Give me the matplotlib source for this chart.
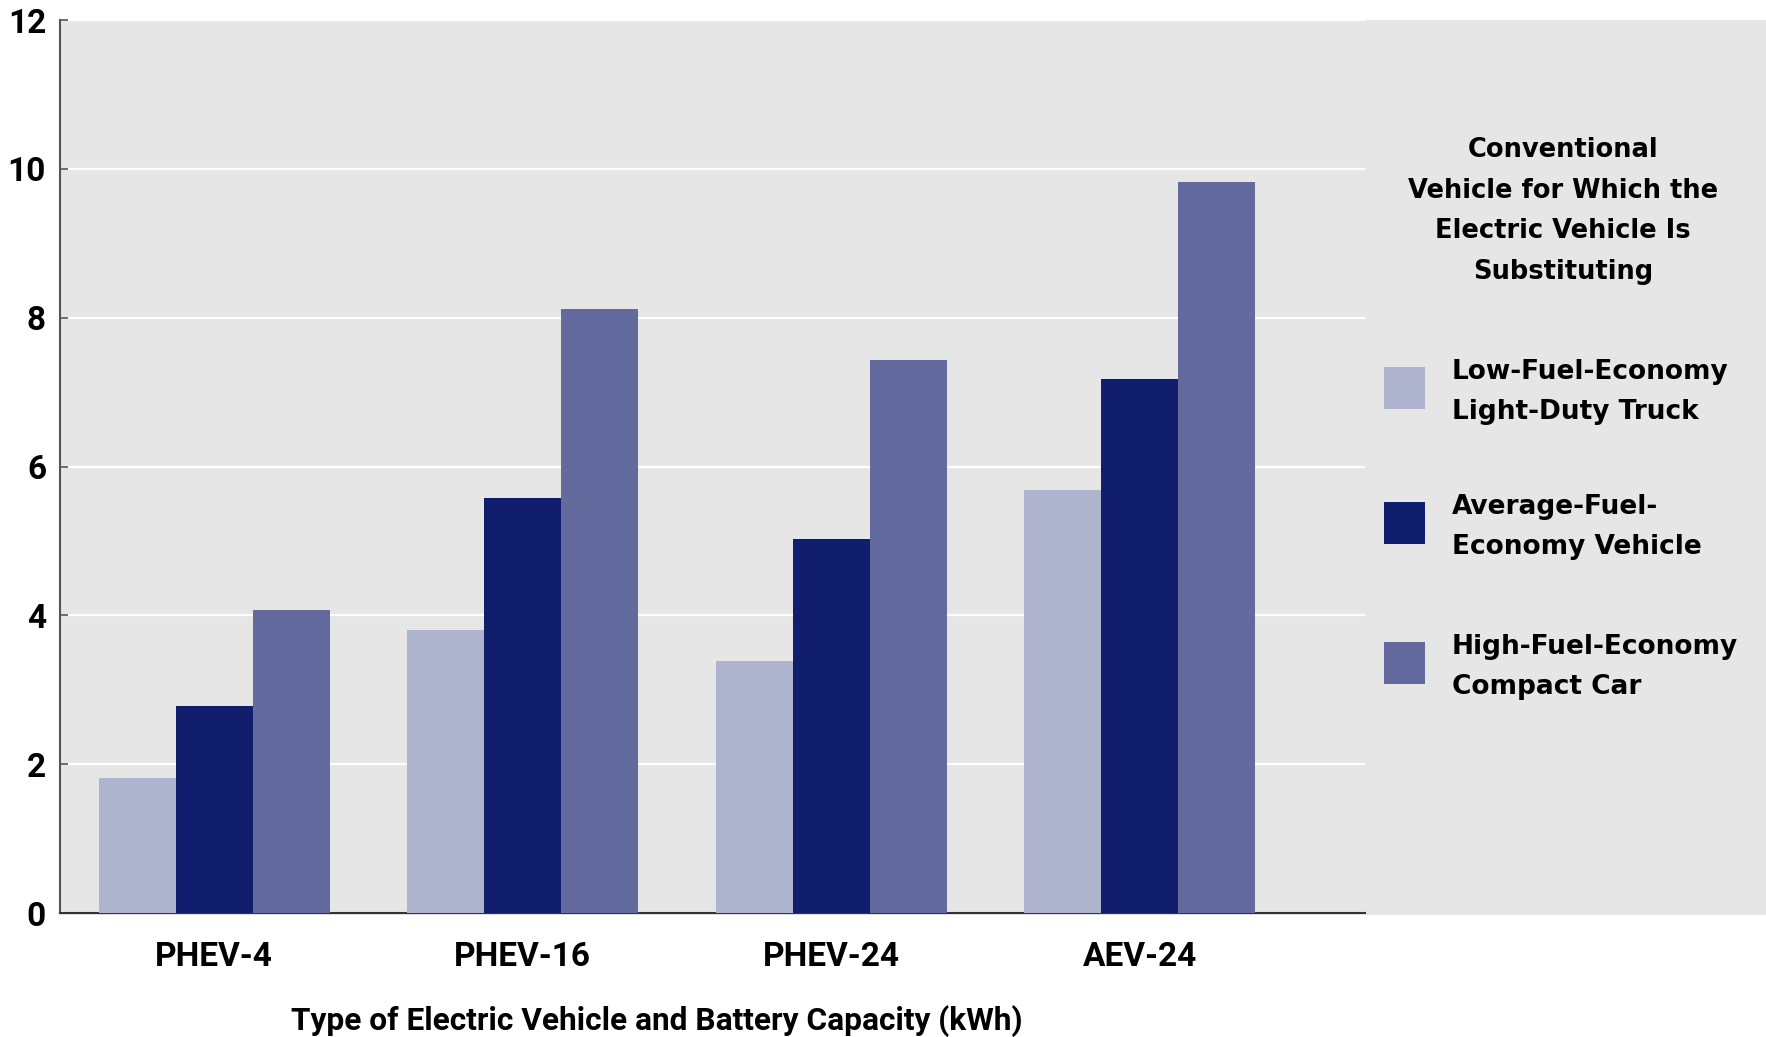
import matplotlib
matplotlib.use('Agg')
import matplotlib.pyplot as plt
import numpy as np
from matplotlib.patches import Rectangle

# categories and series
vehicles = ['PHEV-4', 'PHEV-16', 'PHEV-24', 'AEV-24']
low_fuel_truck = [1.82, 3.80, 3.39, 5.69]
avg_fuel_vehicle = [2.78, 5.58, 5.02, 7.17]
high_fuel_compact = [4.07, 8.11, 7.43, 9.82]
series_labels = ['Low-Fuel-Economy\nLight-Duty Truck',
                 'Average-Fuel-\nEconomy Vehicle',
                 'High-Fuel-Economy\nCompact Car']
legend_title = 'Conventional\nVehicle for Which the\nElectric Vehicle Is\nSubstituting'
y_ticks = [0, 2, 4, 6, 8, 10, 12]

colors = ['#aeb3ce', '#111e6e', '#636a9e']
bg = '#e6e6e6'
tick_font = 'Roboto'
legend_font = 'DejaVu Sans'

W, H = 1766, 1037
fig = plt.figure(figsize=(W / 100, H / 100), dpi=100)

ax_l, ax_r, ax_b, ax_t = 60 / W, 1365 / W, 1 - 913 / H, 1 - 20 / H
# grey panel behind the plot and the key
fig.add_artist(Rectangle((ax_l, ax_b - 2 / H), 1 - ax_l, ax_t - ax_b + 2 / H,
                         transform=fig.transFigure, facecolor=bg,
                         edgecolor='none', zorder=0))

ax = fig.add_axes([ax_l, ax_b, ax_r - ax_l, ax_t - ax_b])
ax.set_facecolor(bg)

x = np.arange(len(vehicles))
width = 0.25
for i, vals in enumerate([low_fuel_truck, avg_fuel_vehicle, high_fuel_compact]):
    ax.bar(x + (i - 1) * width, vals, width, color=colors[i], zorder=3)

ax.set_xlim(-0.5, 3.73)
ax.set_ylim(0, 12)
ax.set_yticks(y_ticks)
ax.yaxis.grid(True, color='white', linewidth=1.6, zorder=1)
ax.set_axisbelow(True)

for s in ['top', 'right']:
    ax.spines[s].set_visible(False)
ax.spines['left'].set_color('#555555')
ax.spines['left'].set_linewidth(1.5)
ax.spines['bottom'].set_color('#333333')
ax.spines['bottom'].set_linewidth(1.5)

ax.tick_params(axis='y', direction='in', length=6, width=1.2, color='#555555', pad=10)
ax.tick_params(axis='x', length=0, pad=20)
ax.set_xticks(x)
ax.set_xticklabels(vehicles)
for lab in ax.get_xticklabels() + ax.get_yticklabels():
    lab.set_fontfamily(tick_font)
    lab.set_fontweight('bold')
    lab.set_fontsize(24)

ax.set_xlabel('Type of Electric Vehicle and Battery Capacity (kWh)',
              fontfamily=tick_font, fontweight='bold', fontsize=22.8,
              labelpad=23, x=0.457)

# key on the right
fig.text(1563 / W, 1 - 211 / H, legend_title, ha='center', va='center',
         fontfamily=legend_font, fontweight='bold', fontsize=18.5,
         linespacing=1.74, multialignment='center')

patch_tops = [367, 502, 642]
for lbl, col, top in zip(series_labels, colors, patch_tops):
    fig.add_artist(Rectangle((1384 / W, 1 - (top + 42) / H), 41 / W, 42 / H,
                             transform=fig.transFigure, facecolor=col,
                             edgecolor='none'))
    fig.text(1452 / W, 1 - (top + 25) / H, lbl, ha='left', va='center',
             fontfamily=legend_font, fontweight='bold', fontsize=19,
             linespacing=1.7)

fig.savefig('out.png', dpi=100)
